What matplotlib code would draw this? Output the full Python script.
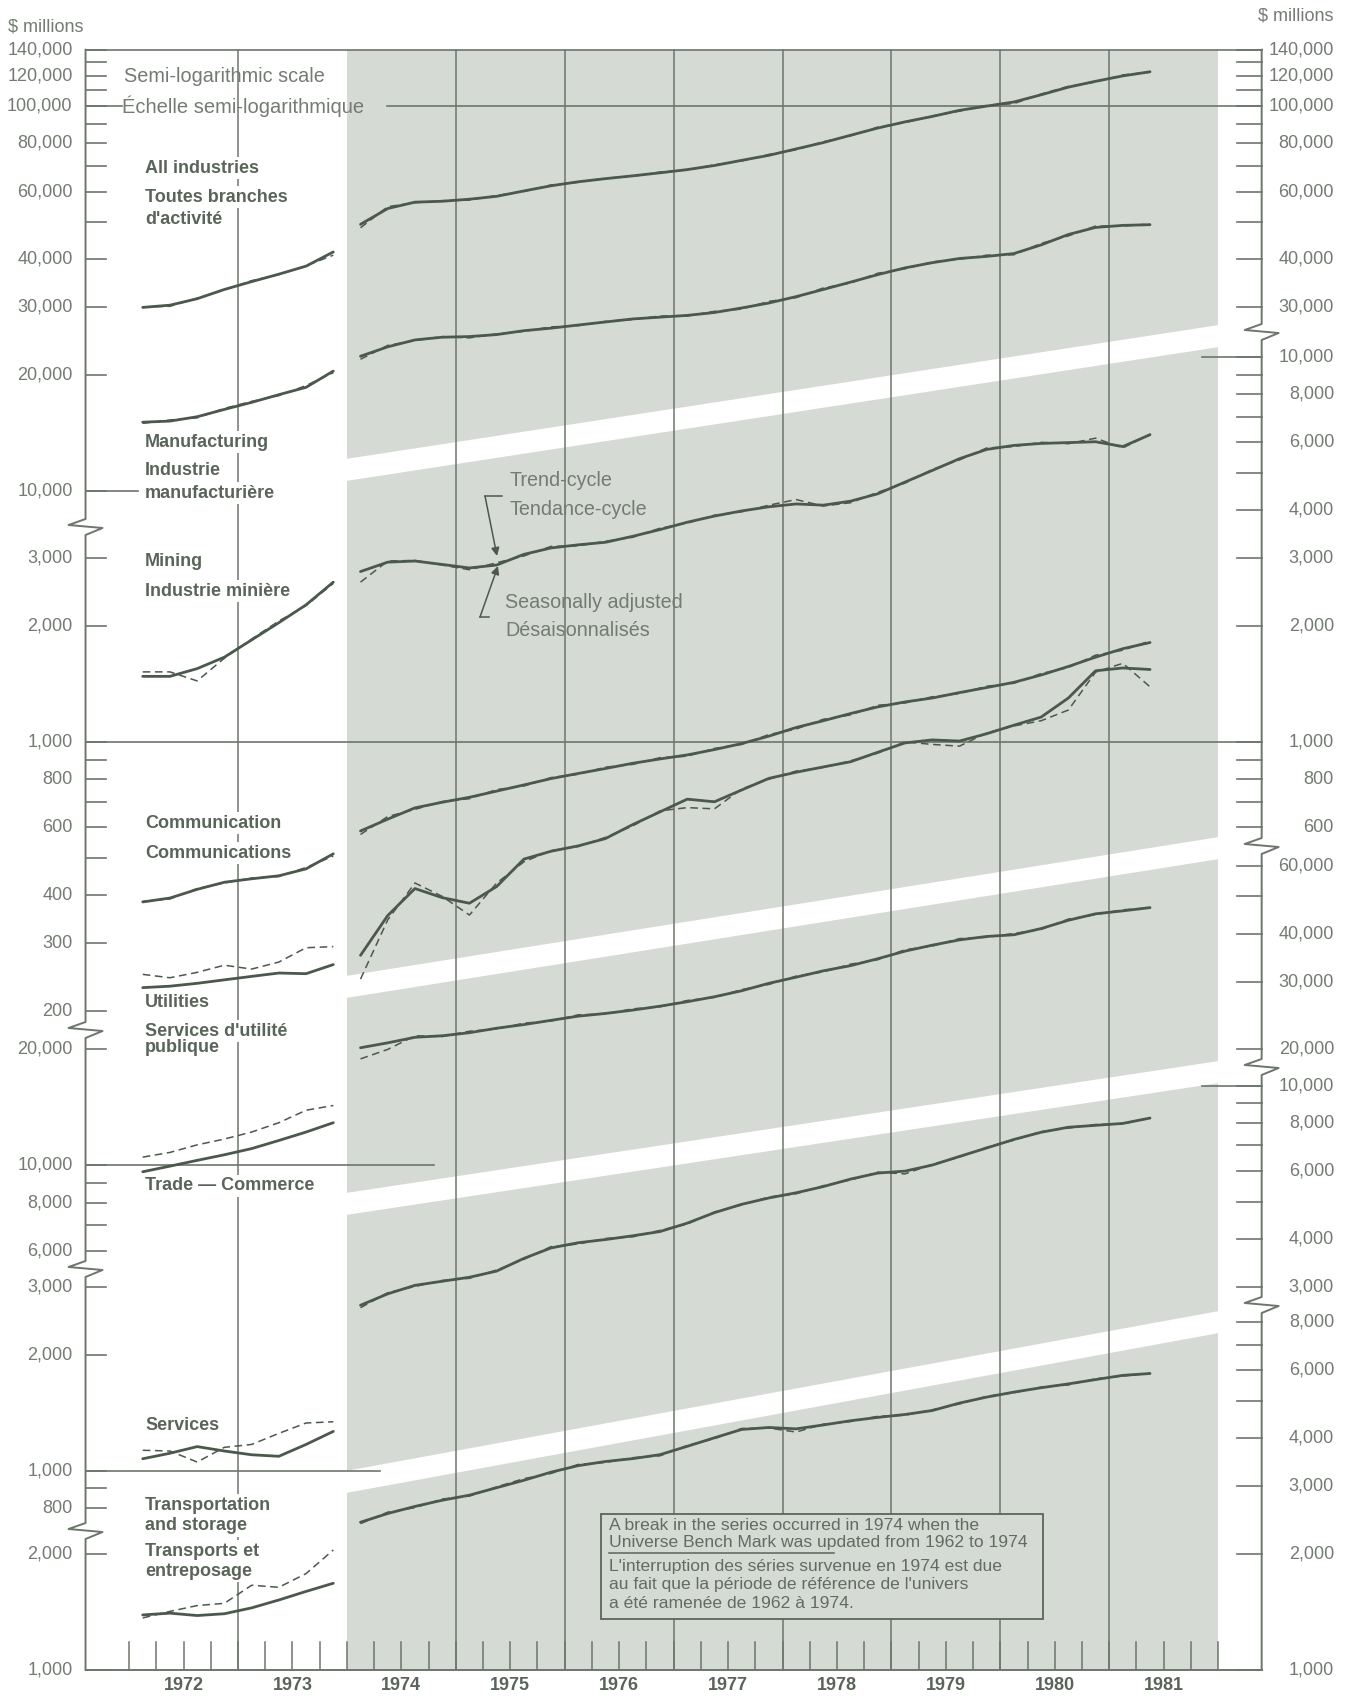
import numpy as np
import matplotlib.pyplot as plt
from matplotlib.patches import Polygon, Rectangle

plt.rcParams['font.family'] = ['Liberation Sans', 'DejaVu Sans']

# ---- data: quarterly, $ millions ----
q_left = np.arange(1972.125, 1974.0, 0.25)    # 1972Q1 - 1973Q4
q_right = np.arange(1974.125, 1981.5, 0.25)   # 1974Q1 - 1981Q2

# all industries
ai_l_tc = [30000, 30400, 31600, 33400, 35000, 36600, 38400, 41800]
ai_l_sa = [30100, 30200, 31700, 33300, 35200, 36500, 38500, 41000]
ai_r_tc = [49300, 54200, 56300, 56600, 57300, 58300, 60200, 62100, 63600, 64800,
           65900, 67100, 68400, 70100, 72300, 74500, 77400, 80400, 84000, 87700,
           91000, 94000, 97500, 100000, 102500, 107000, 112000, 116000, 119800, 122800]
ai_r_sa = [48300, 54800, 56100, 56800, 57000, 58600, 60000, 62400, 63400, 65000,
           65700, 67400, 68200, 70400, 72000, 74900, 77000, 80800, 83700, 88200,
           90600, 94300, 97000, 100500, 101500, 107500, 112500, 115500, 120500, 122500]
# manufacturing
mf_l_tc = [15100, 15200, 15600, 16300, 17000, 17800, 18600, 20500]
mf_l_sa = [15000, 15300, 15500, 16400, 17100, 17700, 18800, 20300]
mf_r_tc = [22400, 23700, 24700, 25100, 25200, 25500, 26100, 26500, 27000, 27500,
           28000, 28300, 28600, 29100, 29900, 30800, 32000, 33400, 34900, 36500,
           38000, 39200, 40200, 40700, 41400, 43600, 46400, 48400, 49000, 49200]
mf_r_sa = [22000, 23900, 24600, 25200, 25000, 25600, 26000, 26700, 26900, 27600,
           27900, 28500, 28500, 29300, 29700, 31100, 31800, 33700, 34700, 36800,
           37800, 39400, 40000, 41000, 41100, 44000, 46000, 48800, 48800, 49400]
# mining
mn_l_tc = [1480, 1480, 1550, 1660, 1840, 2040, 2270, 2600]
mn_l_sa = [1520, 1520, 1440, 1650, 1850, 2060, 2260, 2580]
mn_r_tc = [2770, 2930, 2950, 2890, 2830, 2880, 3070, 3190, 3250, 3300,
           3420, 3560, 3720, 3860, 3980, 4080, 4150, 4120, 4220, 4410,
           4730, 5070, 5440, 5750, 5890, 5960, 5990, 6020, 5850, 6280]
mn_r_sa = [2600, 2950, 2960, 2880, 2800, 2920, 3040, 3220, 3230, 3320,
           3400, 3590, 3700, 3880, 3960, 4120, 4260, 4100, 4180, 4450,
           4700, 5100, 5400, 5800, 5850, 6000, 5950, 6150, 5800, 6300]
# communication
cm_l_tc = [384, 393, 414, 432, 441, 449, 468, 512]
cm_l_sa = [385, 391, 416, 430, 443, 447, 472, 505]
cm_r_tc = [587, 630, 674, 697, 718, 745, 773, 803, 828, 853,
           880, 903, 925, 955, 990, 1035, 1090, 1135, 1185, 1233,
           1270, 1300, 1343, 1384, 1428, 1492, 1570, 1660, 1746, 1812]
cm_r_sa = [575, 640, 668, 700, 712, 752, 768, 808, 824, 860,
           874, 910, 918, 962, 985, 1045, 1080, 1145, 1175, 1245,
           1262, 1310, 1335, 1395, 1420, 1505, 1560, 1680, 1730, 1830]
# utilities
ut_l_tc = [230, 232, 236, 241, 246, 251, 250, 264]
ut_l_sa = [249, 244, 252, 263, 257, 268, 292, 294]
ut_r_tc = [279, 354, 416, 394, 381, 421, 496, 520, 537, 561,
           610, 658, 710, 699, 750, 804, 834, 861, 888, 940,
           994, 1012, 1005, 1050, 1105, 1160, 1300, 1530, 1556, 1542]
ut_r_sa = [242, 345, 430, 397, 355, 430, 488, 522, 535, 565,
           605, 662, 675, 670, 755, 800, 840, 858, 893, 935,
           1000, 985, 975, 1055, 1100, 1135, 1210, 1518, 1600, 1390]
# trade
tr_l_tc = [9620, 9950, 10300, 10650, 11050, 11600, 12200, 12900]
tr_l_sa = [10500, 10800, 11300, 11700, 12200, 12900, 13900, 14300]
tr_r_tc = [20200, 20800, 21500, 21700, 22100, 22700, 23200, 23800, 24400, 24800,
           25300, 25900, 26600, 27400, 28400, 29700, 30800, 32000, 33000, 34400,
           36000, 37300, 38500, 39300, 39700, 41200, 43300, 45000, 45800, 46700]
tr_r_sa = [18900, 20000, 21700, 21600, 22300, 22600, 23400, 23700, 24600, 24700,
           25500, 25800, 26800, 27300, 28600, 29500, 31000, 31800, 33300, 34200,
           36300, 37100, 38800, 39100, 40000, 41000, 43600, 44800, 46100, 46600]
# services
sv_l_tc = [1074, 1110, 1155, 1125, 1100, 1090, 1170, 1265]
sv_l_sa = [1130, 1125, 1053, 1150, 1170, 1250, 1330, 1340]
sv_r_tc = [2690, 2880, 3030, 3105, 3180, 3300, 3560, 3790, 3910, 3985,
           4075, 4180, 4395, 4680, 4920, 5110, 5270, 5470, 5720, 5930,
           6000, 6220, 6550, 6890, 7250, 7570, 7800, 7890, 7980, 8240]
sv_r_sa = [2650, 2900, 3010, 3120, 3160, 3320, 3540, 3820, 3880, 4010,
           4050, 4210, 4370, 4700, 4900, 5140, 5240, 5500, 5690, 5960,
           5900, 6250, 6520, 6920, 7220, 7600, 7760, 7930, 7950, 8260]
# transportation and storage
tp_l_tc = [1390, 1405, 1385, 1400, 1450, 1520, 1600, 1680]
tp_l_sa = [1365, 1420, 1470, 1490, 1660, 1640, 1780, 2050]
tp_r_tc = [2420, 2550, 2660, 2760, 2845, 2975, 3110, 3265, 3395, 3480,
           3540, 3625, 3810, 4010, 4215, 4265, 4230, 4330, 4440, 4530,
           4610, 4720, 4935, 5115, 5270, 5410, 5535, 5680, 5825, 5890]
tp_r_sa = [2400, 2570, 2640, 2780, 2830, 2990, 3140, 3240, 3420, 3460,
           3560, 3600, 3830, 3990, 4240, 4250, 4150, 4350, 4420, 4560,
           4590, 4740, 4910, 5140, 5250, 5430, 5500, 5710, 5800, 5900]

series = [('A', ai_l_tc, ai_l_sa, ai_r_tc, ai_r_sa),
          ('A', mf_l_tc, mf_l_sa, mf_r_tc, mf_r_sa),
          ('B', mn_l_tc, mn_l_sa, mn_r_tc, mn_r_sa),
          ('B', cm_l_tc, cm_l_sa, cm_r_tc, cm_r_sa),
          ('B', ut_l_tc, ut_l_sa, ut_r_tc, ut_r_sa),
          ('C', tr_l_tc, tr_l_sa, tr_r_tc, tr_r_sa),
          ('D', sv_l_tc, sv_l_sa, sv_r_tc, sv_r_sa),
          ('E', tp_l_tc, tp_l_sa, tp_r_tc, tp_r_sa)]

# tick values per scale (labelled, unlabelled) for left and right axis
left_ticks = {'A': ([140000, 120000, 100000, 80000, 60000, 40000, 30000, 20000, 10000],
                    [130000, 110000, 90000, 70000, 50000]),
              'B': ([3000, 2000, 1000, 800, 600, 400, 300, 200], [900, 700, 500]),
              'C': ([20000, 10000, 8000, 6000], [9000, 7000]),
              'D': ([3000, 2000, 1000, 800], [900]),
              'E': ([2000, 1000], [])}
right_ticks = {'A': ([140000, 120000, 100000, 80000, 60000, 40000, 30000],
                     [130000, 110000, 90000, 70000, 50000]),
               'B': ([10000, 8000, 6000, 4000, 3000, 2000, 1000, 800, 600],
                     [9000, 7000, 5000, 900, 700]),
               'C': ([60000, 40000, 30000, 20000], [50000]),
               'D': ([10000, 8000, 6000, 4000, 3000], [9000, 7000, 5000]),
               'E': ([8000, 6000, 4000, 3000, 2000, 1000], [7000, 5000])}

# ---- layout (figure pixels, from top) ----
W, H = 1353, 1698
X0, X1 = 1971.6, 1982.4
TOP, BOT = 49.7, 1670.0
PPD = 385.0                     # pixels per decade
refs = {'A': (1e5, 106.1), 'B': (1e3, 741.9), 'C': (1e4, 1165.3),
        'D': (1e3, 1470.7), 'E': (1e3, 1670.0)}
left_breaks = [527, 1030, 1269, 1531]
right_breaks = [332, 846, 1067, 1305]
bands = [(470, 336), (987, 848), (1204, 1072), (1482, 1322)]

SHADE = '#d6dad5'
LINE = '#4b584c'
AXC = '#6c766b'
TXT = '#737b72'
BTXT = '#5a6559'


def xpx(yr):
    return 238 + (yr - 1973) * 108.9


fig = plt.figure(figsize=(W / 100, H / 100), dpi=100)
fig.patch.set_facecolor('white')

bg = fig.add_axes([0, 0, 1, 1], zorder=0)
fg = fig.add_axes([0, 0, 1, 1], zorder=20)
for a in (bg, fg):
    a.set_xlim(0, W)
    a.set_ylim(H, 0)
    a.axis('off')

# shaded post-1974 area, year lines, white separating bands
bg.add_patch(Rectangle((xpx(1974), TOP), xpx(1982) - xpx(1974), BOT - TOP,
                       facecolor=SHADE, edgecolor='none'))
for yr in [1973, 1975, 1976, 1977, 1978, 1979, 1980, 1981]:
    bg.plot([xpx(yr)] * 2, [TOP, BOT], color=AXC, lw=1.1)
for yl, yrr in bands:
    xa, xb = xpx(1974) - 1, xpx(1982) + 1
    bg.add_patch(Polygon([(xa, yl - 11), (xb, yrr - 11), (xb, yrr + 11), (xa, yl + 11)],
                         closed=True, facecolor='white', edgecolor='none'))

pos = [xpx(X0) / W, 1 - BOT / H, (xpx(X1) - xpx(X0)) / W, (BOT - TOP) / H]
axes = {}
for i, k in enumerate('ABCDE'):
    v, y = refs[k]
    ax = fig.add_axes(pos, zorder=2 + i)
    ax.set_yscale('log')
    ax.set_xlim(X0, X1)
    ax.set_ylim(v * 10 ** ((y - BOT) / PPD), v * 10 ** ((y - TOP) / PPD))
    ax.axis('off')
    axes[k] = ax

# ticks and labels
tl = 20 / 108.9
tr = 25 / 108.9
for k in 'ABCDE':
    ax = axes[k]
    lab, mnr = left_ticks[k]
    for v in lab + mnr:
        ax.plot([X0, X0 + tl], [v, v], color=AXC, lw=1.2, clip_on=False)
    for v in lab:
        ax.text(X0 - 13 / 108.9, v, f'{v:,}', ha='right', va='center',
                fontsize=13, color=TXT)
    lab, mnr = right_ticks[k]
    for v in lab + mnr:
        ax.plot([X1 - tr, X1], [v, v], color=AXC, lw=1.2, clip_on=False)
    for v in lab:
        ax.text(X0 + (1334 - xpx(X0)) / 108.9, v, f'{v:,}', ha='right', va='center',
                fontsize=13, color=TXT)

# long reference lines
axes['A'].plot([X0, 1971.6 + 36 / 108.9], [100000] * 2, color=AXC, lw=1.2)
axes['A'].plot([1973 + (387 - 238) / 108.9, X1], [100000] * 2, color=AXC, lw=1.2)
axes['A'].plot([X0, X0 + 52 / 108.9], [10000] * 2, color=AXC, lw=1.2)
axes['B'].plot([X0, X1], [1000] * 2, color=AXC, lw=1.2)
axes['B'].plot([1981.85, X1], [10000] * 2, color=AXC, lw=1.2)
axes['C'].plot([X0, 1974.8], [10000] * 2, color=AXC, lw=1.2)
axes['D'].plot([X0, 1974.3], [1000] * 2, color=AXC, lw=1.2)
axes['D'].plot([1981.85, X1], [10000] * 2, color=AXC, lw=1.2)

# data lines
for k, ltc, lsa, rtc, rsa in series:
    ax = axes[k]
    ax.plot(q_left, lsa, color=LINE, lw=1.1, dashes=(5, 3))
    ax.plot(q_right, rsa, color=LINE, lw=1.1, dashes=(5, 3))
    ax.plot(q_left, ltc, color=LINE, lw=2.0, solid_capstyle='round')
    ax.plot(q_right, rtc, color=LINE, lw=2.0, solid_capstyle='round')


# frame with scale breaks
def axis_path(x, breaks):
    xs, ys = [x], [TOP]
    for b in breaks:
        xs += [x, x - 17, x + 17, x]
        ys += [b - 8, b - 2, b + 1, b + 8]
    xs.append(x)
    ys.append(BOT)
    return xs, ys


for x, br in ((xpx(X0), left_breaks), (xpx(X1), right_breaks)):
    xs, ys = axis_path(x, br)
    fg.plot(xs, ys, color=AXC, lw=1.4)
fg.plot([xpx(X0), xpx(X1)], [TOP, TOP], color=AXC, lw=1.2)
fg.plot([xpx(X0), xpx(X1)], [BOT, BOT], color=AXC, lw=1.4)

# quarter ticks and years
for qq in np.arange(1972.0, 1982.01, 0.25):
    fg.plot([xpx(qq)] * 2, [BOT - 28, BOT], color=AXC, lw=1.1)
for yr in range(1972, 1982):
    fg.text(xpx(yr + 0.5), 1686, str(yr), ha='center', va='center',
            fontsize=13, fontweight='bold', color=BTXT)

fg.text(8, 27, '$ millions', fontsize=13, color=TXT, va='center')
fg.text(1334, 16, '$ millions', fontsize=13, color=TXT, va='center', ha='right')
fg.text(124, 76, 'Semi-logarithmic scale', fontsize=14.3, color=TXT, va='center')
fg.text(122, 106, 'Échelle semi-logarithmique', fontsize=14.5, color=TXT, va='center')

labels = [(168, 'All industries'), (197, 'Toutes branches'), (219, "d'activité"),
          (442, 'Manufacturing'), (470, 'Industrie'), (493, 'manufacturière'),
          (562, 'Mining'), (591, 'Industrie minière'),
          (823, 'Communication'), (853, 'Communications'),
          (1002, 'Utilities'), (1031, "Services d'utilité"), (1048, 'publique'),
          (1186, 'Trade — Commerce'), (1425, 'Services'),
          (1505, 'Transportation'), (1526, 'and storage'),
          (1551, 'Transports et'), (1571, 'entreposage')]
for y, s in labels:
    fg.text(145, y, s, fontsize=13, fontweight='bold', color=BTXT, va='center',
            bbox=dict(facecolor='white', edgecolor='none', pad=1.5))

# trend-cycle / seasonally adjusted pointers
fg.text(510, 480, 'Trend-cycle', fontsize=14.2, color=TXT, va='center')
fg.text(510, 509, 'Tendance-cycle', fontsize=14.2, color=TXT, va='center')
fg.text(505, 603, 'Seasonally adjusted', fontsize=14.2, color=TXT, va='center')
fg.text(505, 631, 'Désaisonnalisés', fontsize=14.2, color=TXT, va='center')
fg.plot([485, 502], [496, 496], color=LINE, lw=1.1)
fg.plot([480, 489], [617, 617], color=LINE, lw=1.1)
fg.annotate('', xy=(497, 556), xytext=(485, 496),
            arrowprops=dict(arrowstyle='-|>', color=LINE, lw=1.1, mutation_scale=12,
                            shrinkA=0, shrinkB=0))
fg.annotate('', xy=(498, 566), xytext=(480, 617),
            arrowprops=dict(arrowstyle='-|>', color=LINE, lw=1.1, mutation_scale=12,
                            shrinkA=0, shrinkB=0))

# note box (filled with the shade so the year lines stop at its edge)
fg.add_patch(Rectangle((601, 1514), 442, 105, facecolor=SHADE, edgecolor='#5b655a',
                       lw=1.3))
note = [(1525, 'A break in the series occurred in 1974 when the'),
        (1542, 'Universe Bench Mark was updated from 1962 to 1974'),
        (1567, "L'interruption des séries survenue en 1974 est due"),
        (1585, "au fait que la période de référence de l'univers"),
        (1603, 'a été ramenée de 1962 à 1974.')]
for y, s in note:
    fg.text(609, y, s, fontsize=12.6, color='#626b61', va='center')
fg.plot([609, 834], [1553, 1553], color='#5b655a', lw=1.1)

fig.savefig('out.png', dpi=100, facecolor='white')
